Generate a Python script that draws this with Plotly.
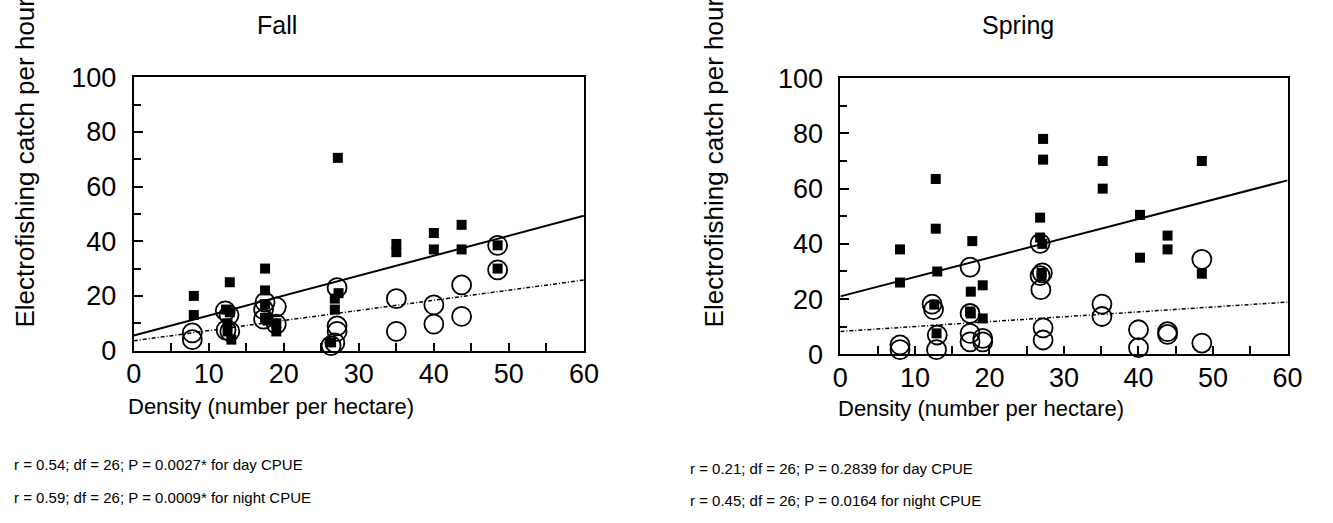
import plotly.graph_objects as go

# ---------------- data ----------------
fall_day_x = [8, 8, 12.3, 12.5, 12.8, 13, 17.5, 17.5, 17.5, 17.5, 19, 27.2, 27.3, 26.8,
              26.3, 35, 35, 40, 40, 43.7, 43.7, 48.5, 48.5, 12.8, 19, 17.8, 12.5, 26.8]
fall_day_y = [20, 13, 15, 10, 25, 4, 30, 22, 17, 12, 7, 70.5, 21, 15,
              3, 39, 36, 43, 37, 46, 37, 38.5, 30, 14, 10, 11, 7, 19]
fall_night_x = [7.8, 7.8, 12.2, 12.7, 12.3, 12.8, 17.5, 17.3, 17.3, 19, 19, 27.1, 27.1, 27.1,
                26.8, 26.3, 35, 35, 40, 40, 43.7, 43.7, 48.5, 48.5]
fall_night_y = [6.5, 4, 14.5, 13, 7.5, 7, 17.7, 15, 11.5, 16, 9.7, 23, 9, 7,
                2.8, 1.8, 19, 7, 16.7, 9.7, 24, 12.5, 38.5, 29.5]

spring_day_x = [8, 8, 12.8, 12.8, 13, 12.9, 17.7, 17.5, 17.5, 19.1, 19.1, 27.2, 27.2, 26.8,
                26.8, 27.1, 27, 35.2, 35.2, 40.2, 40.2, 43.9, 43.9, 48.5, 48.5, 12.6, 17.4, 27]
spring_day_y = [38, 26, 63.5, 45.5, 30, 7.6, 41, 22.7, 14.8, 25, 13, 78, 70.5, 49.5,
                42.3, 40, 28.5, 70, 60, 50.5, 35, 43, 38, 70, 29.2, 18, 15.5, 29.5]
spring_night_x = [8, 8, 12.3, 12.5, 13, 12.9, 17.4, 17.4, 17.4, 17.4, 19.1, 19.1, 26.8, 26.8,
                  27.1, 26.9, 27.2, 27.2, 35.1, 35.1, 40, 40, 43.9, 43.9, 48.5, 48.5]
spring_night_y = [3.4, 1.7, 18.2, 16.2, 7, 1.7, 31.6, 14.8, 7.6, 4.5, 5.8, 4.5, 40.2, 28.5,
                  29.5, 23.4, 9.6, 5.2, 18.2, 13.7, 8.9, 2.4, 8.2, 7.2, 34.4, 4.1]

# regression lines (intercept, slope): [day, night]
fall_intercepts = [5.5, 3.6]
fall_slopes = [0.73, 0.37]
spring_intercepts = [21.0, 8.3]
spring_slopes = [0.70, 0.177]

line_x = [0, 60]

panel_titles = ["Fall", "Spring"]
x_title = "Density (number per hectare)"
y_title = "Electrofishing catch per hour"
stats_fall = ["r = 0.54; df = 26; P = 0.0027* for day CPUE",
              "r = 0.59; df = 26; P = 0.0009* for night CPUE"]
stats_spring = ["r = 0.21; df = 26; P = 0.2839 for day CPUE",
                "r = 0.45; df = 26; P = 0.0164 for night CPUE"]

# ---------------- figure ----------------
W, H = 1333, 523
FONT = "Liberation Sans, Arial, sans-serif"

fig = go.Figure()

def add_panel(xref, yref, dx, dy, nx, ny, icpt, slp):
    fig.add_trace(go.Scatter(x=dx, y=dy, mode="markers", xaxis=xref, yaxis=yref,
                             marker=dict(symbol="square", size=10, color="black"),
                             showlegend=False, cliponaxis=False))
    fig.add_trace(go.Scatter(x=nx, y=ny, mode="markers", xaxis=xref, yaxis=yref,
                             marker=dict(symbol="circle-open", size=19, color="black",
                                         line=dict(width=1.8, color="black")),
                             showlegend=False, cliponaxis=False))
    fig.add_trace(go.Scatter(x=line_x, y=[icpt[0] + slp[0] * v for v in line_x],
                             mode="lines", xaxis=xref, yaxis=yref,
                             line=dict(color="black", width=2), showlegend=False))
    fig.add_trace(go.Scatter(x=line_x, y=[icpt[1] + slp[1] * v for v in line_x],
                             mode="lines", xaxis=xref, yaxis=yref,
                             line=dict(color="black", width=1.5, dash="4px,2px,1px,2px"),
                             showlegend=False))

add_panel("x", "y", fall_day_x, fall_day_y, fall_night_x, fall_night_y,
          fall_intercepts, fall_slopes)
add_panel("x2", "y2", spring_day_x, spring_day_y, spring_night_x, spring_night_y,
          spring_intercepts, spring_slopes)

def px_x(p):
    return p / W

def px_y(p):
    return 1 - p / H

xcommon = dict(range=[0, 60], dtick=10, tick0=0, ticks="inside", ticklen=8, tickwidth=1.5,
               tickcolor="black", showline=True, linecolor="black", linewidth=2, mirror=True,
               showgrid=False, zeroline=False, tickfont=dict(family=FONT, size=27, color="black"),
               minor=dict(dtick=5, ticks="inside", ticklen=8, tickwidth=1.5, tickcolor="black"),
               ticklabelstandoff=-2, fixedrange=True)
ycommon = dict(range=[0, 100], dtick=20, tick0=0, ticks="inside", ticklen=9, tickwidth=1.5,
               tickcolor="black", showline=True, linecolor="black", linewidth=2, mirror=True,
               showgrid=False, zeroline=False, tickfont=dict(family=FONT, size=27, color="black"),
               minor=dict(dtick=10, ticks="inside", ticklen=7, tickwidth=1.5, tickcolor="black"),
               ticklabelstandoff=10, fixedrange=True)

fig.update_layout(
    width=W, height=H,
    margin=dict(l=0, r=0, t=0, b=0),
    paper_bgcolor="white", plot_bgcolor="white",
    xaxis=dict(domain=[px_x(128), px_x(586)], anchor="y", **xcommon),
    yaxis=dict(domain=[px_y(356), px_y(66)], anchor="x", **ycommon),
    xaxis2=dict(domain=[px_x(847), px_x(1302)], anchor="y2", **xcommon),
    yaxis2=dict(domain=[px_y(360), px_y(67)], anchor="x2", **ycommon),
)

ann = []
# panel titles
ann.append(dict(text=panel_titles[0], x=px_x(274), y=px_y(11), xref="paper", yref="paper",
                showarrow=False, xanchor="center", yanchor="middle",
                font=dict(family=FONT, size=25, color="black")))
ann.append(dict(text=panel_titles[1], x=px_x(1028), y=px_y(11), xref="paper", yref="paper",
                showarrow=False, xanchor="center", yanchor="middle",
                font=dict(family=FONT, size=25, color="black")))
# y titles
for xp in (17, 718):
    ann.append(dict(text=y_title, x=px_x(xp), y=px_y(334), xref="paper", yref="paper",
                    showarrow=False, textangle=-90, xanchor="center", yanchor="bottom",
                    font=dict(family=FONT, size=26, color="black")))
# x titles
ann.append(dict(text=x_title, x=px_x(268), y=px_y(415), xref="paper", yref="paper",
                showarrow=False, xanchor="center", yanchor="middle",
                font=dict(family=FONT, size=22, color="black")))
ann.append(dict(text=x_title, x=px_x(990), y=px_y(417), xref="paper", yref="paper",
                showarrow=False, xanchor="center", yanchor="middle",
                font=dict(family=FONT, size=22, color="black")))
# stats text
for t, yp in zip(stats_fall, (477, 512)):
    ann.append(dict(text=t, x=px_x(4), y=px_y(yp), xref="paper", yref="paper",
                    showarrow=False, xanchor="left", yanchor="middle",
                    font=dict(family=FONT, size=15, color="black")))
for t, yp in zip(stats_spring, (481, 515)):
    ann.append(dict(text=t, x=px_x(692), y=px_y(yp), xref="paper", yref="paper",
                    showarrow=False, xanchor="left", yanchor="middle",
                    font=dict(family=FONT, size=15, color="black")))

fig.update_layout(annotations=ann)

fig.write_html(
    "out.html",
    config={"displayModeBar": False},
    post_script="document.body.style.margin='0';document.body.style.overflow='hidden';",
)
